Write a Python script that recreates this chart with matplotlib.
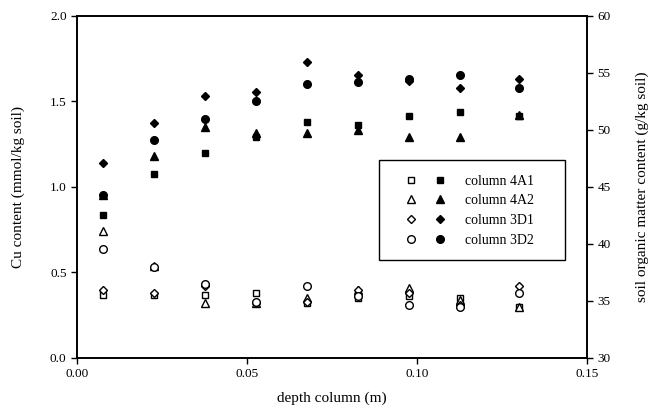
import matplotlib
matplotlib.use("Agg")
import matplotlib.pyplot as plt
from matplotlib.legend_handler import HandlerTuple
from matplotlib.patches import Rectangle

plt.rcParams['font.family'] = ['Liberation Serif', 'DejaVu Serif']

# depth of each sampled slice (m)
depth = [0.0075, 0.0225, 0.0375, 0.0525, 0.0675, 0.0825, 0.0975, 0.1125, 0.130]

# Cu content (mmol/kg soil), open markers, left axis
cu_4A1 = [0.37, 0.37, 0.37, 0.38, 0.32, 0.35, 0.36, 0.35, 0.30]
cu_4A2 = [0.74, 0.54, 0.32, 0.32, 0.35, 0.40, 0.41, 0.34, 0.30]
cu_3D1 = [0.40, 0.38, 0.42, 0.32, 0.33, 0.40, 0.38, 0.31, 0.42]
cu_3D2 = [0.64, 0.53, 0.43, 0.33, 0.42, 0.36, 0.31, 0.30, 0.38]

# soil organic matter (g/kg soil), filled markers, right axis
som_4A1 = [42.5, 46.1, 48.0, 49.4, 50.7, 50.4, 51.2, 51.6, 51.2]
som_4A2 = [44.3, 47.7, 50.3, 49.7, 49.7, 50.0, 49.4, 49.4, 51.3]
som_3D1 = [47.1, 50.6, 53.0, 53.3, 56.0, 54.8, 54.3, 53.7, 54.5]
som_3D2 = [44.3, 49.1, 51.0, 52.5, 54.0, 54.2, 54.5, 54.8, 53.7]

labels = ["column 4A1", "column 4A2", "column 3D1", "column 3D2"]
markers = ["s", "^", "D", "o"]
sizes = [5, 6, 4.5, 5.5]

fig = plt.figure(figsize=(6.55, 4.09), dpi=100)
ax = fig.add_axes([0.1176, 0.1247, 0.7786, 0.8363])
ax2 = ax.twinx()

cu = [cu_4A1, cu_4A2, cu_3D1, cu_3D2]
som = [som_4A1, som_4A2, som_3D1, som_3D2]

handles = []
for c, s, m, ms in zip(cu, som, markers, sizes):
    ho, = ax.plot(depth, c, linestyle='none', marker=m, markersize=ms,
                  markerfacecolor='white', markeredgecolor='black', markeredgewidth=1.0)
    hf, = ax2.plot(depth, s, linestyle='none', marker=m, markersize=ms,
                   markerfacecolor='black', markeredgecolor='black')
    handles.append((ho, hf))

ax.set_xlim(0, 0.15)
ax.set_ylim(0, 2.0)
ax2.set_ylim(30, 60)
ax.set_xticks([0.0, 0.05, 0.10, 0.15])
ax.set_xticklabels(["0.00", "0.05", "0.10", "0.15"])
ax.set_yticks([0.0, 0.5, 1.0, 1.5, 2.0])
ax.set_yticklabels(["0.0", "0.5", "1.0", "1.5", "2.0"])
ax2.set_yticks([30, 35, 40, 45, 50, 55, 60])

for a in (ax, ax2):
    a.tick_params(direction='out', length=4, width=1, labelsize=9.5, colors='black')
    for sp in a.spines.values():
        sp.set_linewidth(1.2)

ax.set_xlabel("depth column (m)", fontsize=11, labelpad=8)
ax.set_ylabel("Cu content (mmol/kg soil)", fontsize=11, labelpad=18)
ax2.set_ylabel("soil organic matter content (g/kg soil)", fontsize=11,
               rotation=90, labelpad=18)

# legend box with open/filled marker pairs
ax2.add_patch(Rectangle((0.592, 0.287), 0.365, 0.292, transform=ax2.transAxes,
                        facecolor='white', edgecolor='black', linewidth=1.0, zorder=4))
leg = ax2.legend(handles, labels, handler_map={tuple: HandlerTuple(ndivide=None, pad=1.44)},
                 loc='upper left', bbox_to_anchor=(0.646, 0.536), fontsize=10,
                 handlelength=2.73, handletextpad=1.47, borderpad=0.0, borderaxespad=0.0,
                 labelspacing=0.48, frameon=False)
leg.set_zorder(5)

fig.savefig("out.png", dpi=100)
